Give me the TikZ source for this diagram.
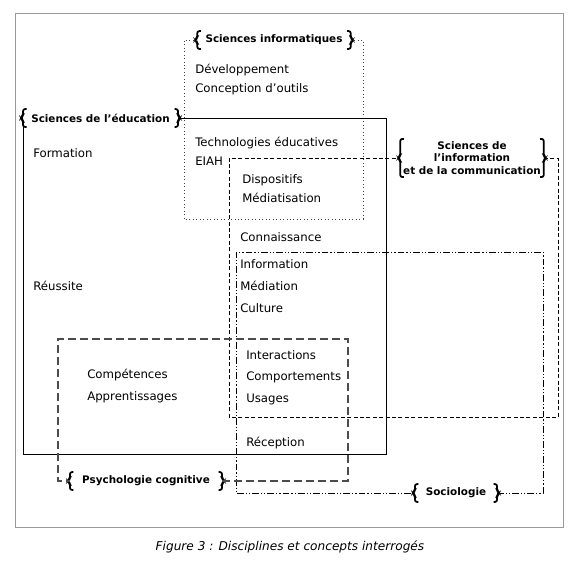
\documentclass[tikz,border=0pt]{standalone}
\usepackage{fontspec}
\setmainfont{DejaVu Sans}
\usetikzlibrary{calc}
% crochets autour d'une discipline
\newcommand{\crochets}[1]{%
  \draw[crochet] ($(#1.north west)+(3.5,0)$) -- (#1.north west) -- ($(#1.west)+(0,-2)$) -- ($(#1.west)+(-2.2,0)$) -- ($(#1.west)+(0,2)$) -- (#1.south west) -- ($(#1.south west)+(3.5,0)$);
  \draw[crochet] ($(#1.north east)+(-3.5,0)$) -- (#1.north east) -- ($(#1.east)+(0,-2)$) -- ($(#1.east)+(2.2,0)$) -- ($(#1.east)+(0,2)$) -- (#1.south east) -- ($(#1.south east)+(-3.5,0)$);
}
\begin{document}
\begin{tikzpicture}[x=0.75pt,y=-0.75pt,
    texte/.style={anchor=west, inner sep=0pt, font=\fontsize{8.8}{10}\selectfont},
    discipline/.style={font=\fontsize{7.8}{9.6}\selectfont\bfseries, inner xsep=6pt, inner ysep=1.5pt, minimum height=13pt, align=center},
    crochet/.style={line width=1.3pt, rounded corners=1.6pt},
    cadre/.style={draw=black!40, line width=0.6pt}]
        \useasboundingbox (0,0) rectangle (582,568);
        %Cadre
        \draw[cadre] (15,13) rectangle (563,527);
        \node[font=\fontsize{9.1}{11}\selectfont\itshape] (legende) at (290,547) {Figure 3 : Disciplines et concepts interrogés};
        %Disciplines
        \node[discipline] (info) at (274,40) {Sciences informatiques};
        \node[discipline, anchor=west] (educ) at (23,118) {Sciences de l’éducation};
        \node[discipline, inner xsep=2pt] (sic) at (472,158) {Sciences de\\l’information\\et de la communication};
        \node[discipline, inner xsep=8pt] (socio) at (456,493) {Sociologie};
        \node[discipline, inner xsep=9pt] (psy) at (146,481) {Psychologie cognitive};
        \crochets{info}
        \crochets{educ}
        \crochets{sic}
        \crochets{socio}
        \crochets{psy}
        %Domaines
        \draw[black!75, line width=0.6pt, dotted] (info.east) -| (363,219) -| (184,40) -- (info.west);
        \draw[line width=0.7pt] (educ.east) -| (386,454) -| (educ.south west);
        \draw[line width=0.7pt, dash pattern=on 3pt off 1.8pt] (sic.east) -| (558,417) -| (229,158) -- (sic.west);
        \draw[line width=0.7pt, dash pattern=on 5pt off 1.6pt on 0.8pt off 1.6pt on 0.8pt off 1.6pt] (socio.east) -| (543,252) -| (236,493) -- (socio.west);
        \draw[black!70, line width=0.9pt, dash pattern=on 6pt off 3pt] (psy.east) -| (348,339) -| (58,481) -- (psy.west);
        %Concepts
        \node[texte] (dev) at (195,70) {Développement};
        \node[texte] (conc) at (195,89) {Conception d’outils};
        \node[texte] (tech) at (195,143) {Technologies éducatives};
        \node[texte] (eiah) at (195,161) {EIAH};
        \node[texte] (form) at (33,153) {Formation};
        \node[texte] (disp) at (242,180) {Dispositifs};
        \node[texte] (medt) at (242,198) {Médiatisation};
        \node[texte] (conn) at (240,237) {Connaissance};
        \node[texte] (infm) at (240,264) {Information};
        \node[texte] (medn) at (240,286) {Médiation};
        \node[texte] (cult) at (240,308) {Culture};
        \node[texte] (reus) at (33,286) {Réussite};
        \node[texte] (inter) at (246,355) {Interactions};
        \node[texte] (comp) at (246,377) {Comportements};
        \node[texte] (usag) at (246,399) {Usages};
        \node[texte] (compe) at (87,375) {Compétences};
        \node[texte] (appr) at (87,397) {Apprentissages};
        \node[texte] (recep) at (246,443) {Réception};
\end{tikzpicture}
\end{document}
